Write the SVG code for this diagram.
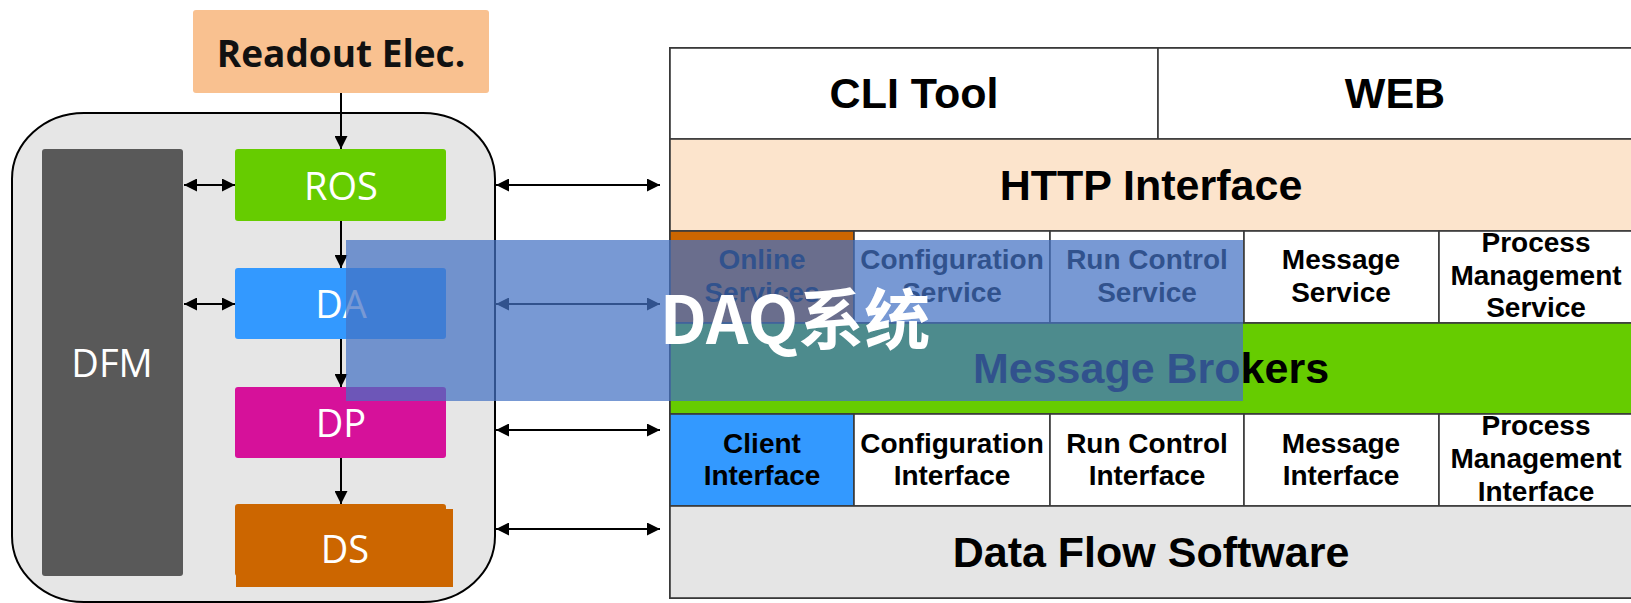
<svg xmlns="http://www.w3.org/2000/svg" width="1631" height="603" viewBox="0 0 1631 603">
<style>
.lbl{font-family:"Open Sans","Liberation Sans",sans-serif;fill:#fff;text-anchor:middle}
.tb{font-family:"Liberation Sans",Arial,sans-serif;font-weight:bold;fill:#000;text-anchor:middle}
.big{font-size:43px}
.sm{font-size:28px}
.cell{stroke:#3a3a3a;stroke-width:1.6}
.conn{stroke:#000;stroke-width:2;fill:none}
</style>
<defs>
<marker id="ah" viewBox="0 0 10 10" refX="10" refY="5" markerWidth="13" markerHeight="13" markerUnits="userSpaceOnUse" orient="auto-start-reverse">
<path d="M0,0 L10,5 L0,10 z" fill="#000"/>
</marker>
</defs>
<rect width="1631" height="603" fill="#fff"/>

<g id="readout">
<rect x="193" y="10" width="296" height="83" rx="3" fill="#F9C190"/>
<text x="341" y="67" font-family="Open Sans, Liberation Sans, sans-serif" font-weight="bold" font-size="37" text-anchor="middle" fill="#111">Readout Elec.</text>
</g>

<g id="daq-box">
<rect x="12" y="113" width="483" height="489" rx="72" ry="66" fill="#E6E6E6" stroke="#000" stroke-width="2"/>
</g>

<g id="dfm">
<rect x="42" y="149" width="141" height="427" rx="3" fill="#595959"/>
<text class="lbl" x="112" y="377" font-size="38">DFM</text>
</g>
<g id="ros">
<rect x="235" y="149" width="211" height="72" rx="3" fill="#66CC00"/>
<text class="lbl" x="341" y="200" font-size="38">ROS</text>
</g>
<g id="da">
<rect x="235" y="268" width="211" height="71" rx="3" fill="#3399FF"/>
<text class="lbl" x="341" y="318" font-size="38">DA</text>
</g>
<g id="dp">
<rect x="235" y="387" width="211" height="71" rx="3" fill="#D6119A"/>
<text class="lbl" x="341" y="437" font-size="38">DP</text>
</g>
<g id="ds">
<rect x="235" y="504" width="211" height="72" rx="3" fill="#CC6600"/>
<rect x="236" y="509" width="217" height="78" fill="#CC6600"/>
<text class="lbl" x="345" y="563" font-size="38">DS</text>
</g>

<g id="software-stack">
<rect x="670" y="48" width="962" height="550" fill="#fff" stroke="#3a3a3a" stroke-width="2"/>
<g id="cli"><rect class="cell" x="670" y="48" width="488" height="91" fill="#fff"/><text class="tb big" x="914" y="108">CLI Tool</text></g>
<g id="web"><rect class="cell" x="1158" y="48" width="474" height="91" fill="#fff"/><text class="tb big" x="1395" y="108">WEB</text></g>
<g id="http"><rect class="cell" x="670" y="139" width="962" height="92" fill="#FCE4CC"/><text class="tb big" x="1151" y="200">HTTP Interface</text></g>

<g id="online"><rect class="cell" x="670" y="231" width="184" height="92" fill="#CC6600"/><text class="tb sm" x="762" y="269">Online</text><text class="tb sm" x="762" y="302">Services</text></g>
<g id="config-svc"><rect class="cell" x="854" y="231" width="196" height="92" fill="#fff"/><text class="tb sm" x="952" y="269">Configuration</text><text class="tb sm" x="952" y="302">Service</text></g>
<g id="run-svc"><rect class="cell" x="1050" y="231" width="194" height="92" fill="#fff"/><text class="tb sm" x="1147" y="269">Run Control</text><text class="tb sm" x="1147" y="302">Service</text></g>
<g id="msg-svc"><rect class="cell" x="1244" y="231" width="195" height="92" fill="#fff"/><text class="tb sm" x="1341" y="269">Message</text><text class="tb sm" x="1341" y="302">Service</text></g>
<g id="proc-svc"><rect class="cell" x="1439" y="231" width="193" height="92" fill="#fff"/><text class="tb sm" x="1536" y="252">Process</text><text class="tb sm" x="1536" y="285">Management</text><text class="tb sm" x="1536" y="317">Service</text></g>

<g id="brokers"><rect class="cell" x="670" y="323" width="962" height="91" fill="#66CC00"/><text class="tb big" x="1151" y="383">Message Brokers</text></g>

<g id="client-if"><rect class="cell" x="670" y="414" width="184" height="92" fill="#3399FF"/><text class="tb sm" x="762" y="453">Client</text><text class="tb sm" x="762" y="485">Interface</text></g>
<g id="config-if"><rect class="cell" x="854" y="414" width="196" height="92" fill="#fff"/><text class="tb sm" x="952" y="453">Configuration</text><text class="tb sm" x="952" y="485">Interface</text></g>
<g id="run-if"><rect class="cell" x="1050" y="414" width="194" height="92" fill="#fff"/><text class="tb sm" x="1147" y="453">Run Control</text><text class="tb sm" x="1147" y="485">Interface</text></g>
<g id="msg-if"><rect class="cell" x="1244" y="414" width="195" height="92" fill="#fff"/><text class="tb sm" x="1341" y="453">Message</text><text class="tb sm" x="1341" y="485">Interface</text></g>
<g id="proc-if"><rect class="cell" x="1439" y="414" width="193" height="92" fill="#fff"/><text class="tb sm" x="1536" y="435">Process</text><text class="tb sm" x="1536" y="468">Management</text><text class="tb sm" x="1536" y="501">Interface</text></g>

<g id="dataflow"><rect class="cell" x="670" y="506" width="962" height="92" fill="#E5E5E5"/><text class="tb big" x="1151" y="567">Data Flow Software</text></g>
</g>

<g id="connectors">
<line class="conn" x1="341" y1="93" x2="341" y2="149" marker-end="url(#ah)"/>
<line class="conn" x1="341" y1="221" x2="341" y2="268" marker-end="url(#ah)"/>
<line class="conn" x1="341" y1="339" x2="341" y2="387" marker-end="url(#ah)"/>
<line class="conn" x1="341" y1="458" x2="341" y2="504" marker-end="url(#ah)"/>
<line class="conn" x1="184" y1="185" x2="235" y2="185" marker-start="url(#ah)" marker-end="url(#ah)"/>
<line class="conn" x1="184" y1="304" x2="235" y2="304" marker-start="url(#ah)" marker-end="url(#ah)"/>
<line class="conn" x1="496" y1="185" x2="660" y2="185" marker-start="url(#ah)" marker-end="url(#ah)"/>
<line class="conn" x1="496" y1="304" x2="660" y2="304" marker-start="url(#ah)" marker-end="url(#ah)"/>
<line class="conn" x1="496" y1="430" x2="660" y2="430" marker-start="url(#ah)" marker-end="url(#ah)"/>
<line class="conn" x1="496" y1="529" x2="660" y2="529" marker-start="url(#ah)" marker-end="url(#ah)"/>
</g>

<g id="title-overlay">
<rect x="346" y="240" width="897" height="161" fill="#4472C4" fill-opacity="0.72"/>
<text x="795" y="344" font-family="Noto Sans CJK SC, sans-serif" font-weight="bold" font-size="66" fill="#fff" text-anchor="middle">DAQ系统</text>
</g>
</svg>
